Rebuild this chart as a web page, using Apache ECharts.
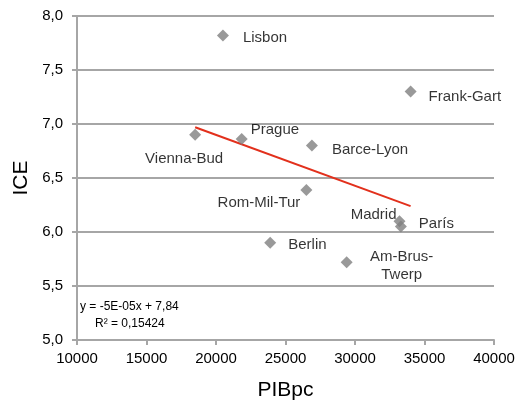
<!DOCTYPE html>
<html>
<head>
<meta charset="utf-8">
<script src="https://cdn.jsdelivr.net/npm/echarts@6/dist/echarts.min.js"></script>
<style>html,body{margin:0;padding:0;background:#fff;}#c{width:518px;height:406px;}</style>
</head>
<body>
<div id="c"></div>
<script>
var cities = ['Lisbon','Frank-Gart','Vienna-Bud','Prague','Barce-Lyon','Rom-Mil-Tur','Madrid','París','Berlin','Am-Brus-\nTwerp'];
var pib = [20500, 34000, 18500, 21850, 26900, 26500, 33200, 33300, 23900, 29400];
var ice = [7.82, 7.30, 6.90, 6.86, 6.80, 6.39, 6.10, 6.05, 5.90, 5.72];
var trendX = [18500, 34000];
var trendY = [6.97, 6.24];
var xTicks = [10000, 15000, 20000, 25000, 30000, 35000, 40000];
var yTicks = [5.0, 5.5, 6.0, 6.5, 7.0, 7.5, 8.0];
var equation = 'y = -5E-05x + 7,84';
var rSquared = 'R² = 0,15424';

// label layout (style only)
var labelLayout = [
  {align:'left', offset:[20, 2]},
  {align:'left', offset:[18, 5]},
  {align:'center', offset:[-11, 24]},
  {align:'left', offset:[9, -9]},
  {align:'left', offset:[20, 4]},
  {align:'right', offset:[-6, 13]},
  {align:'right', offset:[-3, -6]},
  {align:'left', offset:[18, -3]},
  {align:'left', offset:[18, 2]},
  {align:'center', offset:[55, 4]}
];

var FONT = 'Liberation Sans, Arial, sans-serif';

var pts = cities.map(function(c, i){
  var l = labelLayout[i];
  return {
    value: [pib[i], ice[i]],
    name: c,
    label: {show:true, position:'inside', align:l.align, verticalAlign:'middle', offset:l.offset,
      formatter: c, color:'#000', fontSize:15, fontFamily:FONT, lineHeight:18}
  };
});

var chart = echarts.init(document.getElementById('c'), null, {renderer:'canvas'});
chart.setOption({
  backgroundColor:'#fff',
  animation:false,
  grid:{left:77, right:24, top:16, bottom:64, containLabel:false},
  xAxis:{
    type:'value', min:xTicks[0], max:xTicks[xTicks.length-1], interval:5000,
    name:'PIBpc', nameLocation:'middle', nameGap:40,
    nameTextStyle:{fontSize:21, color:'#000', fontFamily:FONT},
    axisLine:{show:true, lineStyle:{color:'#a6a6a6', width:2}},
    axisTick:{show:true, length:5, lineStyle:{color:'#a6a6a6', width:2}},
    axisLabel:{fontSize:15, color:'#000', margin:11, fontFamily:FONT,
      formatter:function(v){return String(v);}},
    splitLine:{show:false}
  },
  yAxis:{
    type:'value', min:yTicks[0], max:yTicks[yTicks.length-1], interval:0.5,
    name:'ICE', nameLocation:'middle', nameGap:45, nameRotate:90,
    nameTextStyle:{fontSize:21, color:'#000', fontFamily:FONT},
    axisLine:{show:true, lineStyle:{color:'#a6a6a6', width:2}},
    axisTick:{show:true, length:5, lineStyle:{color:'#a6a6a6', width:2}},
    axisLabel:{fontSize:15, color:'#000', margin:14, fontFamily:FONT,
      formatter:function(v){return v.toFixed(1).replace('.', ',');}},
    splitLine:{show:true, lineStyle:{color:'#a6a6a6', width:2}}
  },
  graphic:[
    {type:'text', left:80, top:301, z:100, style:{text:equation, fill:'#000', font:'12px ' + FONT}},
    {type:'text', left:95, top:318, z:100, style:{text:rSquared, fill:'#000', font:'12px ' + FONT}}
  ],
  series:[
    {
      type:'line', data:trendX.map(function(x,i){return [x, trendY[i]];}),
      symbol:'none', lineStyle:{color:'#e2301c', width:2}, z:3, silent:true
    },
    {
      type:'scatter', data:pts, symbol:'diamond', symbolSize:12,
      itemStyle:{color:'#7f7f7f'}, z:4
    }
  ]
});
</script>
</body>
</html>
